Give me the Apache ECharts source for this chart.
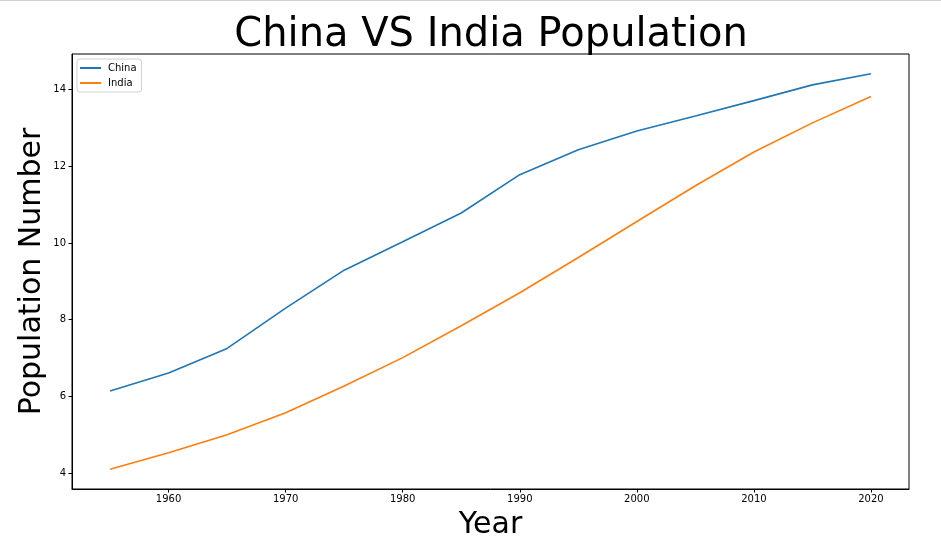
<!DOCTYPE html>
<html>
<head>
<meta charset="utf-8">
<script src="https://cdn.jsdelivr.net/npm/echarts@6/dist/echarts.min.js"></script>
<style>
html,body{margin:0;padding:0;background:#fff;}
#chart{width:941px;height:552px;}
</style>
</head>
<body>
<div id="chart"></div>
<script>
const years = [1955,1960,1965,1970,1975,1980,1985,1990,1995,2000,2005,2010,2015,2020];
const china = [6.14,6.61,7.25,8.30,9.29,10.03,10.78,11.78,12.43,12.92,13.31,13.71,14.12,14.41];
const india = [4.10,4.53,5.00,5.57,6.27,7.01,7.84,8.70,9.62,10.56,11.49,12.37,13.13,13.82];
const xTicks = [1960,1970,1980,1990,2000,2010,2020];
const yTicks = [4,6,8,10,12,14];

const font = 'DejaVu Sans';
const chart = echarts.init(document.getElementById('chart'), null, {renderer:'canvas'});
chart.setOption({
  animation:false,
  backgroundColor:'#fff',
  title:{
    text:'China VS India Population',
    left:491, top:16, textAlign:'center', padding:0,
    textStyle:{fontFamily:font, fontSize:40, fontWeight:'normal', color:'#000'}
  },
  graphic:[{type:'rect', shape:{x:0,y:0,width:941,height:1}, style:{fill:'#d0d0d0'}, silent:true}],
  legend:{
    orient:'vertical', left:77, top:59,
    padding:[3,5,3,3], itemGap:3,
    backgroundColor:'#fff', borderColor:'#d0d0d0', borderWidth:1, borderRadius:3,
    icon:'rect', itemWidth:21, itemHeight:2,
    textStyle:{fontFamily:font, fontSize:10, color:'#000', lineHeight:12, padding:[0,0,0,2]},
    data:['China','India']
  },
  grid:{left:72, right:32, top:54, bottom:63, show:true, borderColor:'#000', borderWidth:1, containLabel:false},
  xAxis:{
    type:'value', min:1951.75, max:2023.25,
    name:'Year', nameLocation:'middle', nameGap:21, nameMoveOverlap:false,
    nameTextStyle:{fontFamily:font, fontSize:30, color:'#000'},
    axisLine:{show:true, onZero:false, lineStyle:{color:'#000', width:1}},
    axisTick:{show:true, length:3.5, customValues:xTicks, lineStyle:{color:'#000'}},
    axisLabel:{customValues:xTicks, fontFamily:font, fontSize:10, color:'#000', margin:5, formatter:v=>String(v)},
    splitLine:{show:false}
  },
  yAxis:{
    type:'value', min:3.5845, max:14.9255,
    name:'Population Number', nameLocation:'middle', nameGap:25, nameRotate:90, nameMoveOverlap:false,
    nameTextStyle:{fontFamily:font, fontSize:30, color:'#000'},
    axisLine:{show:true, onZero:false, lineStyle:{color:'#000', width:1}},
    axisTick:{show:true, length:3.5, customValues:yTicks, lineStyle:{color:'#000'}},
    axisLabel:{customValues:yTicks, fontFamily:font, fontSize:10, color:'#000', margin:6, formatter:v=>String(v)},
    splitLine:{show:false}
  },
  series:[
    {name:'China', type:'line', data:years.map((y,i)=>[y,china[i]]), symbol:'none', lineStyle:{color:'#1f77b4', width:1.6}, itemStyle:{color:'#1f77b4'}},
    {name:'India', type:'line', data:years.map((y,i)=>[y,india[i]]), symbol:'none', lineStyle:{color:'#ff7f0e', width:1.6}, itemStyle:{color:'#ff7f0e'}}
  ]
});
</script>
</body>
</html>
